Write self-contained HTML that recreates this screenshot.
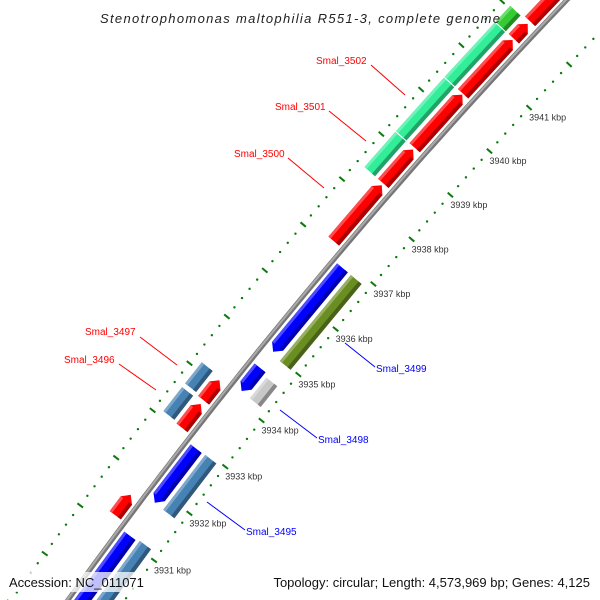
<!DOCTYPE html>
<html><head><meta charset="utf-8">
<style>
html,body{margin:0;padding:0;background:#fff;width:600px;height:600px;overflow:hidden;}
svg{display:block;font-family:"Liberation Sans",sans-serif;overflow:hidden;}
</style></head>
<body>
<svg id="chart" width="600" height="600" viewBox="0 0 600 600" xmlns="http://www.w3.org/2000/svg">
<rect x="0" y="0" width="600" height="600" fill="#fff"/>
<g id="rings"></g>
<g id="genes"></g>
<g id="labels">
  <line x1="371" y1="65" x2="405" y2="95" stroke="#f00" stroke-width="1"/>
  <text x="316" y="64" font-size="10" fill="#f00">Smal_3502</text>
  <line x1="329" y1="111" x2="366" y2="141" stroke="#f00" stroke-width="1"/>
  <text x="275" y="110" font-size="10" fill="#f00">Smal_3501</text>
  <line x1="288" y1="158" x2="324" y2="188" stroke="#f00" stroke-width="1"/>
  <text x="234" y="157" font-size="10" fill="#f00">Smal_3500</text>
  <line x1="140" y1="337" x2="177" y2="365" stroke="#f00" stroke-width="1"/>
  <text x="85" y="335" font-size="10" fill="#f00">Smal_3497</text>
  <line x1="119" y1="364" x2="156" y2="390" stroke="#f00" stroke-width="1"/>
  <text x="64" y="363" font-size="10" fill="#f00">Smal_3496</text>
  <line x1="345" y1="343" x2="375" y2="367" stroke="#00f" stroke-width="1"/>
  <text x="376" y="372" font-size="10" fill="#00f">Smal_3499</text>
  <line x1="280" y1="410" x2="317" y2="438" stroke="#00f" stroke-width="1"/>
  <text x="318" y="443" font-size="10" fill="#00f">Smal_3498</text>
  <line x1="207" y1="502" x2="245" y2="530" stroke="#00f" stroke-width="1"/>
  <text x="246" y="535" font-size="10" fill="#00f">Smal_3495</text>
</g>
<text x="100" y="23" textLength="400" lengthAdjust="spacing" font-size="13" font-style="italic" fill="#222">Stenotrophomonas maltophilia R551-3, complete genome</text>
<rect x="4" y="572" width="146" height="20" fill="#fff" fill-opacity="0.75"/>
<text x="9" y="587" font-size="13" fill="#111">Accession: NC_011071</text>
<rect x="256" y="572" width="340" height="20" fill="#fff" fill-opacity="0.75"/>
<text x="590" y="587" text-anchor="end" font-size="13" fill="#111">Topology: circular; Length: 4,573,969 bp; Genes: 4,125</text>
</svg>
<script>
// ---- data ----
const tickKbp = [3928,3929,3930,3931,3932,3933,3934,3935,3936,3937,3938,3939,3940,3941,3942,3943,3944,3945];
const tickLabels = ["3928 kbp","3929 kbp","3930 kbp","3931 kbp","3932 kbp","3933 kbp","3934 kbp","3935 kbp","3936 kbp","3937 kbp","3938 kbp","3939 kbp","3940 kbp","3941 kbp","3942 kbp","3943 kbp","3944 kbp","3945 kbp"];
const geneStart = [3937.12,3938.40,3939.20,3940.42,3941.68,3942.08,3938.40,3939.20,3940.42,3941.68,3933.07,3933.66,3933.10,3933.69,3934.18,3934.17,3935.03,3934.98,3931.22,3931.79,3931.78,3929.40,3929.40];
const geneEnd   = [3938.36,3939.16,3940.40,3941.65,3942.02,3943.60,3939.18,3940.40,3941.66,3942.04,3933.58,3934.09,3933.61,3934.14,3934.68,3934.62,3936.87,3936.87,3931.65,3932.94,3932.95,3931.09,3931.12];
const geneStrand= [1,1,1,1,1,1, 1,1,1,1, 1,1,1,1, -1,-1,-1,-1, 1,-1,-1,-1,-1];
const geneRing  = ["cds","cds","cds","cds","cds","cds","cog","cog","cog","cog","cds","cds","cog","cog","cds","cog","cds","cog","cds","cds","cog","cds","cog"];
const geneColor = ["#ff0000","#ff0000","#ff0000","#ff0000","#ff0000","#ff0000","#33ee99","#33ee99","#33ee99","#33cc33","#ff0000","#ff0000","#4682b4","#4682b4","#0000ff","#c8c8c8","#0000ff","#6b8e23","#ff0000","#0000ff","#4682b4","#0000ff","#4682b4"];

// ---- geometry ----
const CX=4683, CY=3930, R0=5691, A0=216.65, DEG=0.597, K0=3931;
function pt(k,off){const a=(A0+DEG*(k-K0))*Math.PI/180;const r=R0+off;return [CX+r*Math.cos(a),CY+r*Math.sin(a)];}
function ps(arr){return arr.map(p=>p[0].toFixed(1)+","+p[1].toFixed(1)).join(" ");}
const NS="http://www.w3.org/2000/svg";
const rings=document.getElementById("rings");
const genesG=document.getElementById("genes");
function shade(hex,f){const n=parseInt(hex.slice(1),16);let r=n>>16,g=(n>>8)&255,b=n&255;
 if(f<1){r*=f;g*=f;b*=f;}else{r+= (255-r)*(f-1);g+=(255-g)*(f-1);b+=(255-b)*(f-1);}
 return "rgb("+Math.round(r)+","+Math.round(g)+","+Math.round(b)+")";}

// backbone
const bb=[];for(let k=3927;k<=3946;k+=0.25)bb.push(pt(k,0));
const bbl=document.createElementNS(NS,"polyline");
bbl.setAttribute("points",ps(bb));bbl.setAttribute("fill","none");bbl.setAttribute("stroke","#777");bbl.setAttribute("stroke-width","5");


rings.appendChild(bbl);
const bb2=[];for(let k=3927;k<=3946;k+=0.25)bb2.push(pt(k,0.8));
const bbh=document.createElementNS(NS,"polyline");
bbh.setAttribute("points",ps(bb2));bbh.setAttribute("fill","none");bbh.setAttribute("stroke","#aaa");bbh.setAttribute("stroke-width","2");


rings.appendChild(bbh);

// tick rings
[46,-46].forEach(function(off){
  for(let i=0;i<tickKbp.length;i++){
    const k=tickKbp[i];
    const a=pt(k,off-3.5),b=pt(k,off+3.5);
    const t=document.createElementNS(NS,"line");
    t.setAttribute("x1",a[0]);t.setAttribute("y1",a[1]);t.setAttribute("x2",b[0]);t.setAttribute("y2",b[1]);
    t.setAttribute("stroke","#0a7a0a");t.setAttribute("stroke-width","2");
    
    
    rings.appendChild(t);
    for(let j=1;j<5;j++){
      const p=pt(k+j*0.2,off);
      const d=document.createElementNS(NS,"circle");
      d.setAttribute("cx",p[0]);d.setAttribute("cy",p[1]);d.setAttribute("r","1.2");d.setAttribute("fill","#0a7a0a");
      
      
      rings.appendChild(d);
    }
    if(off<0){
      const p=pt(k,off);
      if(p[0]<545 && p[1]<590){
        const tx=document.createElementNS(NS,"text");
        tx.setAttribute("x",p[0]);tx.setAttribute("y",p[1]+13);tx.setAttribute("font-size","9");tx.setAttribute("fill","#333");
        tx.textContent=tickLabels[i];
        
        
        rings.appendChild(tx);
      }
    }
  }
});

// genes
for(let i=0;i<geneStart.length;i++){
  const s=geneStart[i],e=geneEnd[i],st=geneStrand[i],ring=geneRing[i],col=geneColor[i];
  const o=(ring==="cds"?12:30)*st, h=7;
  let pts;
  if(ring==="cds"){
    const hd=Math.min(0.12,(e-s)*0.5);
    if(st>0){const be=e-hd;pts=[pt(s,o-h),pt(be,o-h),pt(e,o),pt(be,o+h),pt(s,o+h)];}
    else{const bs=s+hd;pts=[pt(e,o+h),pt(bs,o+h),pt(s,o),pt(bs,o-h),pt(e,o-h)];}
  } else {
    pts=[pt(s,o-h),pt(e,o-h),pt(e,o+h),pt(s,o+h)];
  }
  const g=document.createElementNS(NS,"g");
  
  
  const poly=document.createElementNS(NS,"polygon");
  poly.setAttribute("points",ps(pts));poly.setAttribute("fill",col);
  
  
  g.appendChild(poly);
  const hd2=ring==="cds"?Math.min(0.12,(e-s)*0.5):0;
  const s2=st>0?s:s+hd2, e2=st>0?e-hd2:e;
  const dk=document.createElementNS(NS,"polygon");
  dk.setAttribute("points",ps([pt(s2,o-h),pt(e2,o-h),pt(e2,o-h+4),pt(s2,o-h+4)]));
  dk.setAttribute("fill",shade(col,0.68));
  
  
  g.appendChild(dk);
  const lt=document.createElementNS(NS,"polygon");
  lt.setAttribute("points",ps([pt(s2,o+h-3),pt(e2,o+h-3),pt(e2,o+h),pt(s2,o+h)]));
  lt.setAttribute("fill",shade(col,1.3));
  
  
  g.appendChild(lt);
  genesG.appendChild(g);
}
</script>
</body></html>
